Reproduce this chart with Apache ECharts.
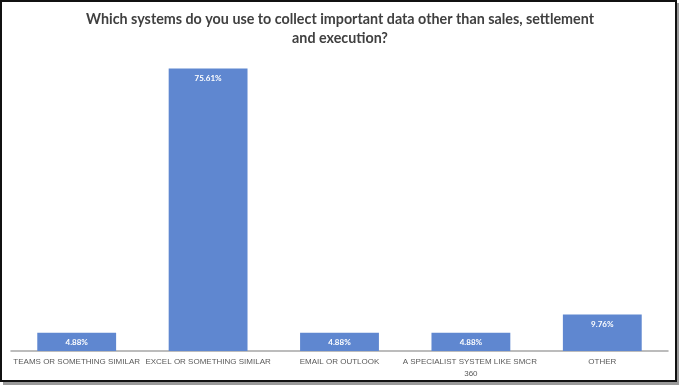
<!DOCTYPE html>
<html><head><meta charset="utf-8">
<script src="https://cdn.jsdelivr.net/npm/echarts@6/dist/echarts.min.js"></script>
<style>html,body{margin:0;padding:0;background:#fff}#c{width:680px;height:386px}</style>
</head><body><div id="c"></div>
<script>
var titleText = 'Which systems do you use to collect important data other than sales, settlement\nand execution?';
var categories = ['TEAMS OR SOMETHING SIMILAR', 'EXCEL OR SOMETHING SIMILAR', 'EMAIL OR OUTLOOK', 'A SPECIALIST SYSTEM LIKE SMCR 360', 'OTHER'];
var values = [4.88, 75.61, 4.88, 4.88, 9.76];

var chart = echarts.init(document.getElementById('c'), null, {renderer: 'canvas'});
chart.setOption({
  animation: false,
  backgroundColor: '#fff',
  title: {
    text: titleText, left: 'center', top: 5,
    textStyle: {fontFamily: 'Lato', fontWeight: 'bold', fontSize: 14.3, color: '#404040', lineHeight: 19}
  },
  graphic: [
    {type: 'rect', shape: {x: 3, y: 3, width: 676, height: 382}, style: {fill: '#9a9a9a'}, z: -10},
    {type: 'rect', shape: {x: 1, y: 1, width: 675, height: 380}, style: {fill: '#fff', stroke: '#111', lineWidth: 2}, z: -9}
  ],
  grid: {left: 11, right: 12, top: 52, bottom: 35},
  xAxis: {
    type: 'category', data: categories,
    axisTick: {show: false},
    axisLine: {lineStyle: {color: '#a6a6a6', width: 1.5}},
    axisLabel: {interval: 0, color: '#595959', fontFamily: '"Liberation Sans", sans-serif', fontSize: 8, margin: 5, lineHeight: 12,
      width: 140, overflow: 'break'}
  },
  yAxis: {type: 'value', min: 0, max: 80, show: false, splitLine: {show: false}},
  series: [{
    type: 'bar', data: values, barWidth: '60%',
    itemStyle: {color: '#5f87d0'},
    label: {show: true, position: 'insideTop', distance: 6, color: '#fff', fontWeight: 'bold',
      fontFamily: 'Lato', fontSize: 8,
      formatter: function(p){ return p.value.toFixed(2) + '%'; }}
  }]
});
</script></body></html>
